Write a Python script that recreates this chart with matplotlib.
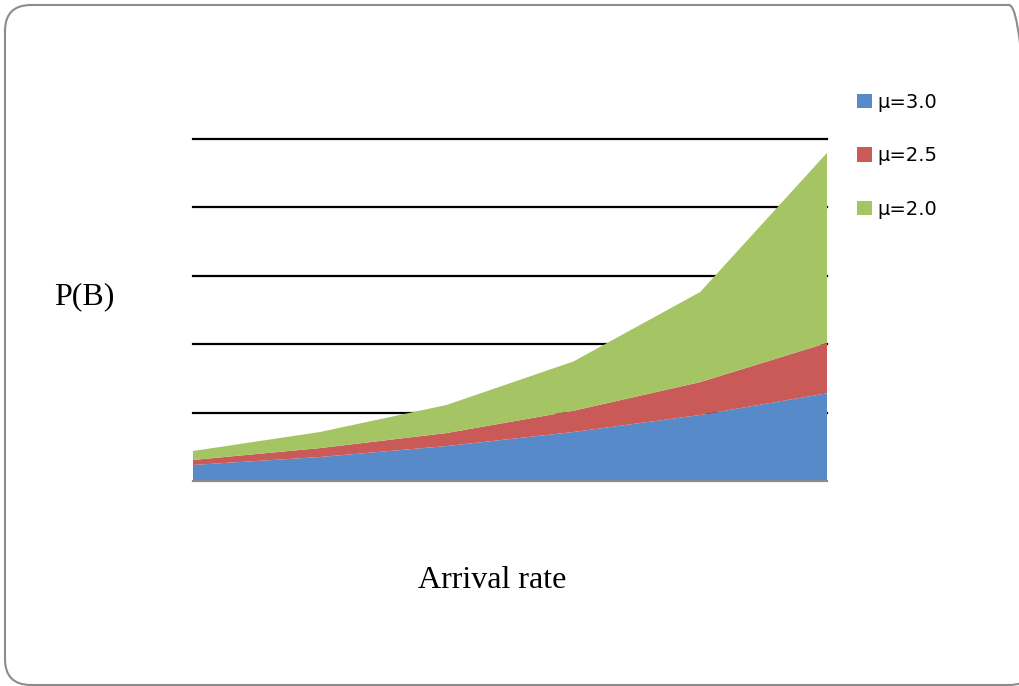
import numpy as np
import matplotlib.pyplot as plt
from matplotlib.patches import FancyBboxPatch
import matplotlib.transforms as mtransforms

# blocking probability per service rate, stacked
rates = [1, 2, 3, 4, 5, 6]
mu_30 = [0.0234, 0.035, 0.051, 0.0715, 0.0964, 0.128]
mu_25 = [0.0073, 0.013, 0.019, 0.031, 0.048, 0.0735]
mu_20 = [0.0131, 0.0235, 0.041, 0.072, 0.1315, 0.2775]
labels = ["\u03bc=3.0", "\u03bc=2.5", "\u03bc=2.0"]
colors = ["#568AC8", "#C95A58", "#A5C464"]

W, H = 1019, 686
fig = plt.figure(figsize=(W / 100, H / 100), dpi=100)

# rounded frame around the whole slide
frame = FancyBboxPatch((5, 1), 1030, 680, boxstyle="round,pad=0,rounding_size=26",
                       transform=mtransforms.IdentityTransform(),
                       facecolor="none", edgecolor="#8c8c8c", linewidth=1.5)
fig.patches.append(frame)

ax = fig.add_axes([193 / W, (H - 481) / H, (827 - 193) / W, (481 - 138.5) / H])
polys = ax.stackplot(rates, mu_30, mu_25, mu_20, colors=colors, labels=labels)

ax.set_xlim(1, 6)
ax.set_ylim(0, 0.5)
ax.set_yticks([0.1, 0.2, 0.3, 0.4, 0.5])
ax.set_xticks([])
ax.set_axisbelow(True)
ax.yaxis.grid(True, color="black", linewidth=1.6)
for g in ax.get_ygridlines():
    g.set_clip_on(False)
ax.tick_params(left=False, labelleft=False, length=0)
for s in ["top", "left", "right"]:
    ax.spines[s].set_visible(False)
ax.spines["bottom"].set_color("#8c8c8c")
ax.spines["bottom"].set_linewidth(1.6)

fig.text(84 / W, (H - 297) / H, "P(B)", family="Liberation Serif", fontsize=23,
         ha="center", va="center")
fig.text(492 / W, (H - 580) / H, "Arrival rate", family="Liberation Serif", fontsize=23,
         ha="center", va="center")

leg = ax.legend(loc="upper left", bbox_to_anchor=(847 / W, (H - 83) / H),
                bbox_transform=fig.transFigure, frameon=False,
                prop={"family": "DejaVu Sans", "size": 14},
                handlelength=0.78, handleheight=0.78, handletextpad=0.3,
                labelspacing=1.78, borderpad=0)

fig.savefig("out.png", dpi=100)
